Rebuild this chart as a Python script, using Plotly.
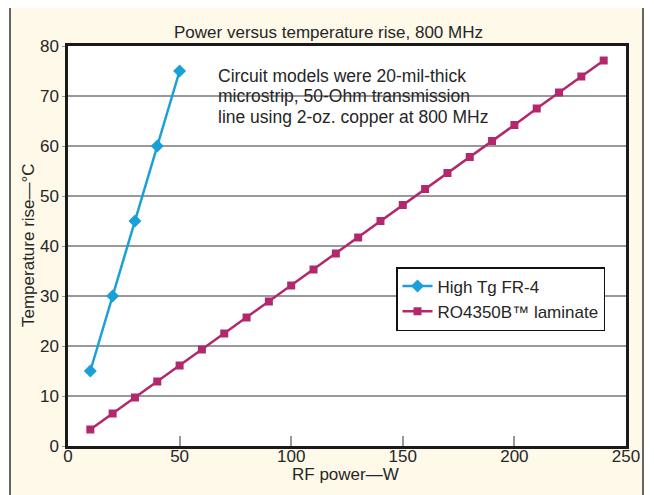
import plotly.graph_objects as go

fr4_power = [10, 20, 30, 40, 50]
fr4_temp = [15, 30, 45, 60, 75]

ro_power = [10, 20, 30, 40, 50, 60, 70, 80, 90, 100, 110, 120, 130, 140, 150,
            160, 170, 180, 190, 200, 210, 220, 230, 240]
ro_temp = [3.3, 6.5, 9.7, 12.9, 16.1, 19.3, 22.5, 25.7, 28.9, 32.1, 35.3, 38.5,
           41.7, 45.0, 48.2, 51.4, 54.6, 57.8, 61.0, 64.2, 67.5, 70.7, 73.9, 77.1]

x_ticks = [0, 50, 100, 150, 200, 250]
y_ticks = [0, 10, 20, 30, 40, 50, 60, 70, 80]

note_lines = ["Circuit models were 20-mil-thick",
              "microstrip, 50-Ohm transmission",
              "line using 2-oz. copper at 800 MHz"]

FONT = "Liberation Sans, Arial, sans-serif"
BLUE = "#1aa0d8"
MAGENTA = "#b3286c"
TXT = "#262626"
FS = 17

# plot area in screenshot pixels: x 68..626, y 46..446 (page has an 8px offset)
OFF = 8
PL, PT, PW, PH = 68, 46, 558, 400


def px(X):
    return (X - PL) / PW


def py(Y):
    return (PT + PH - Y) / PH


fig = go.Figure()
fig.add_trace(go.Scatter(
    x=fr4_power, y=fr4_temp, mode="lines+markers", name="High Tg FR-4",
    line=dict(color=BLUE, width=2.5),
    marker=dict(symbol="diamond", size=10, color=BLUE)))
fig.add_trace(go.Scatter(
    x=ro_power, y=ro_temp, mode="lines+markers", name="RO4350B™ laminate",
    line=dict(color=MAGENTA, width=2.5),
    marker=dict(symbol="square", size=8, color=MAGENTA)))

fig.update_layout(
    width=654, height=495,
    margin=dict(l=PL - OFF, t=PT - OFF, r=654 - (PL - OFF) - PW,
                b=495 - (PT - OFF) - PH, autoexpand=False),
    paper_bgcolor="white",
    plot_bgcolor="white",
    font=dict(family=FONT, size=FS, color=TXT),
    title=dict(text="Power versus temperature rise, 800 MHz",
               x=(328.5 - OFF) / 654, xanchor="center",
               y=1 - (32 - OFF) / 495, yanchor="middle",
               font=dict(size=FS, color=TXT)),
    showlegend=True,
    legend=dict(x=px(396), y=py(299), xanchor="left", yanchor="middle",
                bgcolor="white", bordercolor="#111", borderwidth=1.5,
                font=dict(size=FS, color=TXT), tracegroupgap=0,
                itemwidth=30),
    xaxis=dict(range=[0, 250], tickvals=x_ticks, ticks="inside", ticklen=10,
               tickcolor="#999", tickwidth=1.5, showgrid=False, zeroline=False,
               showline=True, linecolor="#1a1a1a", linewidth=2.5, mirror=True,
               automargin=False, ticklabelstandoff=-7,
               tickfont=dict(size=FS, color=TXT)),
    yaxis=dict(range=[0, 80], tickvals=y_ticks, ticks="outside", ticklen=3,
               tickcolor="#999", showgrid=True, gridcolor="#999", gridwidth=1.5,
               zeroline=False, showline=True, linecolor="#1a1a1a", linewidth=2.5,
               mirror=True, automargin=False, tickfont=dict(size=FS, color=TXT)),
)

fig.add_shape(type="rect", xref="paper", yref="paper",
              x0=px(10), x1=px(643), y0=py(505), y1=py(5),
              fillcolor="#fef9e8", line=dict(color="#333", width=1.5), layer="below")
fig.add_shape(type="rect", xref="paper", yref="paper",
              x0=0, x1=1, y0=0, y1=1,
              fillcolor="white", line=dict(width=0), layer="below")

# axis titles
fig.add_annotation(xref="paper", yref="paper", x=px(345.5), y=py(474),
                   xanchor="center", yanchor="middle", showarrow=False,
                   text="RF power—W", font=dict(size=FS, color=TXT))
fig.add_annotation(xref="paper", yref="paper", x=px(28), y=py(245),
                   xanchor="center", yanchor="middle", showarrow=False,
                   textangle=-90, text="Temperature rise—°C",
                   font=dict(size=FS, color=TXT))

# note text
for line, yc in zip(note_lines, [75.5, 96, 116.5]):
    fig.add_annotation(xref="paper", yref="paper", x=px(216), y=py(yc),
                       xanchor="left", yanchor="middle", showarrow=False,
                       text=line, font=dict(size=17.5, color=TXT))

fig.write_html("out.html")
